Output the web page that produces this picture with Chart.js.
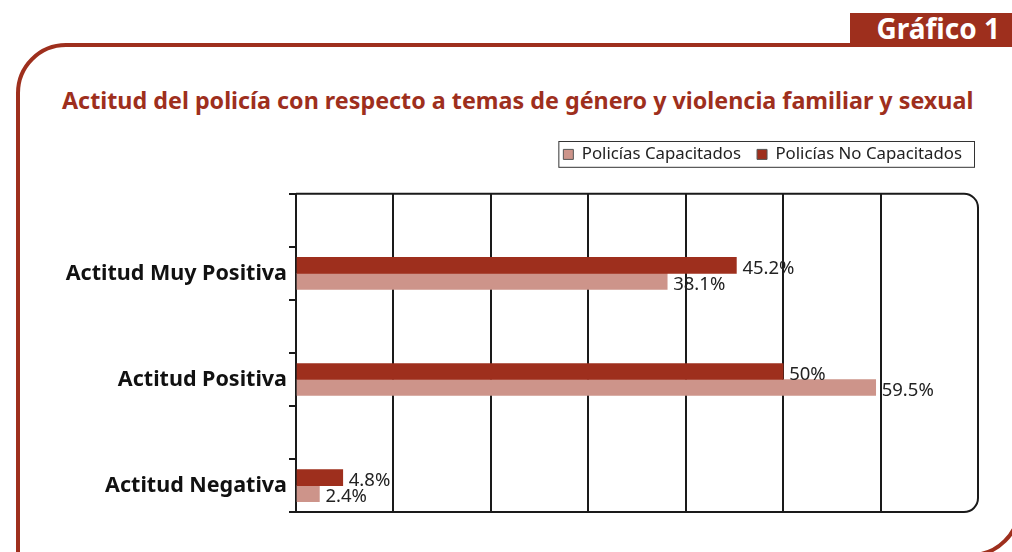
<!DOCTYPE html>
<html>
<head>
<meta charset="utf-8">
<script src="https://cdn.jsdelivr.net/npm/chart.js@4.4.1/dist/chart.umd.min.js"></script>
<style>
  html, body { margin: 0; padding: 0; background: #fff; }
  body { width: 1012px; height: 552px; position: relative; overflow: hidden; font-family: "Noto Sans", sans-serif; }
  .frame {
    position: absolute; left: 16px; top: 43px; width: 997px; height: 506px;
    border: 4px solid #9e2f1d; border-radius: 50px 0 50px 0;
  }
  .badge {
    position: absolute; left: 850px; top: 13px; width: 162px; height: 30px;
    background: #9e2f1d; color: #fff; font-weight: bold; font-size: 28px;
    line-height: 30px; text-align: right; padding-right: 12px; box-sizing: border-box;
  }
  .title {
    position: absolute; left: 62px; top: 84px; color: #9e2f1d;
    font-weight: bold; font-size: 23.3px; white-space: nowrap;
  }
  .wrap { position: absolute; left: 0; top: 120px; width: 1012px; height: 407px; }
</style>
</head>
<body>
<div class="frame"></div>
<div class="badge">Gráfico 1</div>
<div class="title">Actitud del policía con respecto a temas de género y violencia familiar y sexual</div>
<div class="wrap"><canvas id="chart"></canvas></div>
<script>
const categories = ['Actitud Muy Positiva', 'Actitud Positiva', 'Actitud Negativa'];
const noCapacitados = [45.2, 50, 4.8];
const capacitados = [38.1, 59.5, 2.4];
const xTicks = [0, 10, 20, 30, 40, 50, 60, 70];

// every category sits in the lower half of two slots, like the original
const labels = [];
const darkData = [];
const lightData = [];
categories.forEach((c, i) => {
  labels.push('', c);
  darkData.push(null, noCapacitados[i]);
  lightData.push(null, capacitados[i]);
});

const DARK = '#9e2f1d';
const LIGHT = '#cd948a';
const FONT = '"Noto Sans", sans-serif';

const valueLabels = {
  id: 'valueLabels',
  afterDatasetsDraw(chart) {
    const ctx = chart.ctx;
    ctx.save();
    ctx.font = '18.5px ' + FONT;
    ctx.fillStyle = '#222';
    ctx.textBaseline = 'middle';
    chart.data.datasets.forEach((ds, di) => {
      chart.getDatasetMeta(di).data.forEach((bar, i) => {
        const v = ds.data[i];
        if (v == null) return;
        ctx.fillText(v + '%', bar.x + 6, bar.y + 3);
      });
    });
    ctx.restore();
  }
};

const plotFrame = {
  id: 'plotFrame',
  afterDatasetsDraw(chart) {
    const a = chart.chartArea;
    const r = 14;
    const ctx = chart.ctx;
    ctx.save();
    ctx.strokeStyle = '#1a1a1a';
    ctx.lineWidth = 2;
    ctx.beginPath();
    ctx.moveTo(a.left, a.top);
    ctx.lineTo(a.right - r, a.top);
    ctx.arcTo(a.right, a.top, a.right, a.top + r, r);
    ctx.lineTo(a.right, a.bottom - r);
    ctx.arcTo(a.right, a.bottom, a.right - r, a.bottom, r);
    ctx.lineTo(a.left, a.bottom);
    ctx.stroke();
    ctx.restore();
  },
  afterDraw(chart) {
    // box round the legend
    const boxes = chart.legend.legendHitBoxes;
    if (!boxes || !boxes.length) return;
    const first = boxes[0], last = boxes[boxes.length - 1];
    const ctx = chart.ctx;
    ctx.save();
    ctx.strokeStyle = '#333';
    ctx.lineWidth = 1;
    ctx.strokeRect(first.left - 4.5, first.top - 4.5, last.left + last.width - first.left + 17, first.height + 9);
    ctx.restore();
  }
};

new Chart(document.getElementById('chart'), {
  type: 'bar',
  data: {
    labels: labels,
    datasets: [
      { label: 'Policías No Capacitados', data: darkData, backgroundColor: DARK, barThickness: 16 },
      { label: 'Policías Capacitados', data: lightData, backgroundColor: LIGHT, barThickness: 16 }
    ]
  },
  options: {
    indexAxis: 'y',
    responsive: true,
    maintainAspectRatio: false,
    animation: false,
    layout: { padding: { top: 10, right: 34, bottom: 0, left: 0 } },
    plugins: {
      legend: {
        position: 'top',
        align: 'end',
        reverse: true,
        labels: {
          boxWidth: 10,
          boxHeight: 10,
          padding: 16,
          color: '#222',
          font: { family: FONT, size: 16.8 },
          generateLabels(chart) {
            const items = Chart.defaults.plugins.legend.labels.generateLabels(chart);
            items.forEach(it => { it.strokeStyle = '#555'; it.lineWidth = 1; });
            return items;
          }
        }
      },
      tooltip: { enabled: false }
    },
    scales: {
      x: {
        position: 'top',
        min: 0,
        max: 70,
        afterBuildTicks(scale) { scale.ticks = xTicks.map(v => ({ value: v })); },
        afterFit(scale) { scale.height = 21; },
        ticks: { display: false },
        border: { display: false },
        grid: {
          drawTicks: false,
          lineWidth: 2,
          color: ctx => (ctx.tick && (ctx.tick.value === 0 || ctx.tick.value === 70)) ? 'rgba(0,0,0,0)' : '#1a1a1a'
        }
      },
      y: {
        afterFit(scale) { scale.width = 296; },
        border: { display: true, color: '#1a1a1a', width: 2 },
        grid: { drawOnChartArea: false, color: '#1a1a1a', lineWidth: 2, tickLength: 7 },
        ticks: { color: '#111', padding: 2, font: { family: FONT, size: 21.5, weight: 'bold' } }
      }
    }
  },
  plugins: [valueLabels, plotFrame]
});
</script>
</body>
</html>
